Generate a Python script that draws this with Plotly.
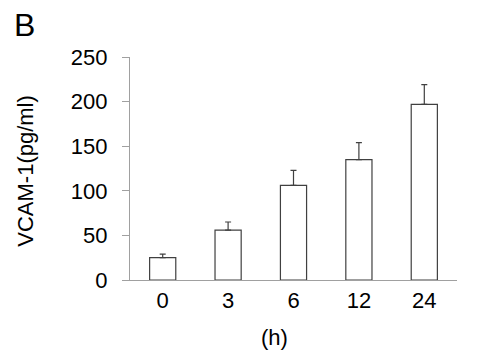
import plotly.graph_objects as go

categories = ["0", "3", "6", "12", "24"]
values = [25, 56, 106, 135, 197]
errors = [4, 9, 17, 19, 22]
y_ticks = [0, 50, 100, 150, 200, 250]

font = "Liberation Sans, Arial, sans-serif"

fig = go.Figure()
fig.add_trace(go.Bar(
    x=categories, y=values, width=0.4,
    marker=dict(color="white", line=dict(color="#404040", width=1.2)),
    error_y=dict(type="data", symmetric=False, array=errors,
                 arrayminus=[0] * len(errors), color="#404040",
                 thickness=1.2, width=3),
))

fig.update_layout(
    width=480, height=355,
    margin=dict(l=122, r=31, t=49, b=83),
    plot_bgcolor="white", paper_bgcolor="white",
    showlegend=False,
    font=dict(family=font, color="black", size=22),
    xaxis=dict(type="category", range=[-0.5, 4.5], showline=True,
               linecolor="#a0a0a0", linewidth=1.2, ticks="",
               tickfont=dict(size=22), showgrid=False),
    yaxis=dict(range=[0, 250], tickvals=y_ticks, showline=True,
               linecolor="#a0a0a0", linewidth=1.2, ticks="outside",
               ticklen=7, tickcolor="#a0a0a0", tickwidth=1.2,
               tickfont=dict(size=22), showgrid=False, zeroline=False,
               ticklabelstandoff=10),
)
fig.add_annotation(text="VCAM-1(pg/ml)", xref="paper", yref="paper",
                   x=-0.318, y=0.49, xanchor="center", yanchor="middle",
                   textangle=-90, showarrow=False,
                   font=dict(size=22, family=font))
fig.add_annotation(text="(h)", xref="paper", yref="paper",
                   x=0.443, y=-0.26, xanchor="center", yanchor="middle",
                   showarrow=False, font=dict(size=22, family=font))
fig.add_annotation(text="B", xref="paper", yref="paper",
                   x=-0.36, y=1.235, xanchor="left", yanchor="top",
                   showarrow=False, font=dict(size=32, family=font))

fig.write_html("out.html")
